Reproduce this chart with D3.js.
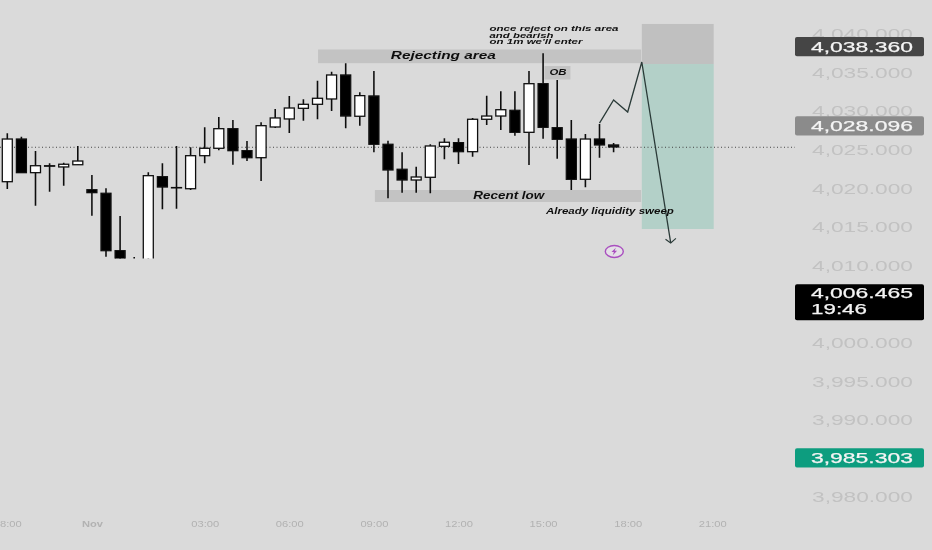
<!DOCTYPE html>
<html>
<head>
<meta charset="utf-8">
<script src="https://cdn.jsdelivr.net/npm/d3@7"></script>
<style>
  html, body { margin: 0; padding: 0; background: #dadada; overflow: hidden; }
  text { font-family: "Liberation Sans", Arial, sans-serif; }
</style>
</head>
<body>
<svg width="932" height="550"></svg>
<script>
// 30 minute candles
var opens = [4020.86,4026.39,4022.03,4022.93,4022.77,4023.06,4019.82,4019.36,4011.92,4006.5,4006.5,4021.51,4020.10,4019.95,4024.23,4025.19,4027.73,4024.88,4023.97,4027.95,4028.99,4030.37,4030.89,4031.58,4034.69,4029.34,4031.97,4025.71,4022.47,4021.08,4021.43,4025.45,4025.92,4024.75,4028.95,4029.37,4030.11,4027.26,4033.56,4027.86,4026.39,4021.17,4026.39,4025.62];
var highs = [4027.13,4026.69,4024.84,4023.25,4023.32,4025.49,4021.73,4020.01,4016.42,4011.10,4022.08,4023.25,4025.49,4025.32,4027.91,4029.25,4028.86,4026.14,4028.56,4030.28,4031.97,4031.54,4033.95,4035.12,4036.20,4032.45,4035.21,4026.17,4024.67,4022.81,4025.71,4026.49,4026.49,4029.12,4032.01,4032.58,4032.58,4035.21,4037.50,4034.04,4028.86,4027.04,4028.34,4025.88];
var lows = [4019.92,4021.99,4017.75,4019.57,4020.34,4023.03,4016.46,4011.14,4005.0,4004.0,4005.5,4017.28,4017.36,4019.79,4023.25,4024.93,4023.06,4023.54,4020.95,4027.82,4027.17,4028.77,4028.95,4030.02,4027.78,4028.12,4024.67,4018.71,4019.44,4019.44,4019.36,4023.76,4023.15,4024.10,4028.21,4027.56,4026.82,4023.03,4026.43,4023.84,4019.79,4020.14,4023.97,4024.67];
var closes = [4026.39,4022.03,4022.93,4022.87,4023.12,4023.54,4019.44,4011.92,4006.83,4008.0,4021.64,4020.17,4020.06,4024.23,4025.19,4027.73,4024.88,4023.97,4028.12,4029.12,4030.41,4030.89,4031.67,4034.69,4029.37,4032.01,4025.71,4022.38,4021.08,4021.47,4025.49,4025.97,4024.75,4028.95,4029.37,4030.19,4027.26,4033.56,4027.91,4026.36,4021.17,4026.39,4025.62,4025.36];

var priceTicks = [4040,4035,4030,4025,4020,4015,4010,4000,3995,3990,3980];
var timeTickIdx = [0,6,14,20,26,32,38,44,50];
var timeTickLabels = ["18:00","Nov","03:00","06:00","09:00","12:00","15:00","18:00","21:00"];

var lastPrice = 4025.32;

// drawn path after the last candles [candle index, price]
var projected = [[42,4028.45],[43,4031.45],[44,4029.89],[45,4036.37],[47.05,4012.92]];

// shaded areas [index from, index to, price top, price bottom]
var rejectZone = [22.04,44.95,4037.99,4036.22];
var lowZone = [26.07,44.95,4019.78,4018.23];
var obZone = [38.1,39.94,4035.85,4034.1];
var stopZone = [45,50.1,4041.3,4036.11];
var targetZone = [45,50.1,4036.11,4014.73];

// notes [text, index of left edge, price of baseline, width px, font px]
var notes = [
  ["Rejecting area",27.2,4036.78,105,11.5],
  ["once reject on this area",34.2,4040.39,129,7.5],
  ["and bearish",34.2,4039.5,64,7.5],
  ["on 1m we'll enter",34.2,4038.66,93,7.5],
  ["OB",38.45,4034.7,17,8.5],
  ["Recent low",33.05,4018.62,71,10],
  ["Already liquidity sweep",38.2,4016.72,128,9.5]
];

// price tags on the right [value, second line, colour]
var tags = [
  [4038.36,"","#444444"],
  [4028.096,"","#8b8b8b"],
  [4006.465,"19:46","#000000"],
  [3985.303,"","#0f9d7f"]
];

var svg = d3.select("svg");

var defs = svg.append("defs");
defs.append("clipPath").attr("id", "candleClip").append("rect")
  .attr("x", 0).attr("y", 0).attr("width", 795).attr("height", 258.5);
defs.append("filter").attr("id", "soft").append("feGaussianBlur").attr("stdDeviation", 0.35);
defs.append("filter").attr("id", "softer").append("feGaussianBlur").attr("stdDeviation", 0.55);

var x = d3.scaleLinear().domain([0,50]).range([7.3,712.3]);
var y = d3.scaleLinear().domain([3980,4040]).range([497,34]);

var root = svg.append("g").attr("filter", "url(#soft)");

root.append("rect").attr("width", 932).attr("height", 550).attr("fill", "#dadada");

// zones
function zone(z, colour) {
  root.append("rect")
    .attr("x", x(z[0]))
    .attr("y", y(z[2]))
    .attr("width", x(z[1]) - x(z[0]))
    .attr("height", y(z[3]) - y(z[2]))
    .attr("fill", colour);
}
zone(rejectZone, "#c3c3c3");
zone(lowZone, "#c3c3c3");
zone(obZone, "#c3c3c3");
zone(stopZone, "#c0c0c0");
zone(targetZone, "#b3d0c8");

// last price dotted line
root.append("line")
  .attr("x1", 0).attr("x2", 795)
  .attr("y1", y(lastPrice)).attr("y2", y(lastPrice))
  .attr("stroke", "#444").attr("stroke-width", 1).attr("stroke-dasharray", "1,2.5");

// candles
var candles = root.append("g").attr("clip-path", "url(#candleClip)")
  .selectAll("g").data(opens).join("g");

candles.append("line")
  .attr("x1", function(d,i){ return x(i); })
  .attr("x2", function(d,i){ return x(i); })
  .attr("y1", function(d,i){ return y(highs[i]); })
  .attr("y2", function(d,i){ return y(lows[i]); })
  .attr("stroke", "#111").attr("stroke-width", 1.6);

candles.append("rect")
  .attr("x", function(d,i){ return x(i) - 5; })
  .attr("width", 10)
  .attr("y", function(d,i){ return y(Math.max(opens[i], closes[i])); })
  .attr("height", function(d,i){ return Math.abs(y(opens[i]) - y(closes[i])); })
  .attr("fill", function(d,i){ return closes[i] >= opens[i] ? "#fff" : "#000"; })
  .attr("stroke", "#111").attr("stroke-width", 1.3);

// drawn path with arrow head
var line = d3.line()
  .x(function(d){ return x(d[0]); })
  .y(function(d){ return y(d[1]); });

root.append("path").datum(projected)
  .attr("d", line)
  .attr("fill", "none")
  .attr("stroke", "#2a3a38").attr("stroke-width", 1.3);

var tip = projected[projected.length - 1];
root.append("path").datum([[tip[0] - 0.37, tip[1] + 0.48], tip, [tip[0] + 0.37, tip[1] + 0.6]])
  .attr("d", line)
  .attr("fill", "none")
  .attr("stroke", "#2a3a38").attr("stroke-width", 1.1);

// notes
root.append("g").selectAll("text").data(notes).join("text")
  .attr("x", function(d){ return x(d[1]); })
  .attr("y", function(d){ return y(d[2]); })
  .attr("textLength", function(d){ return d[3]; })
  .attr("lengthAdjust", "spacingAndGlyphs")
  .attr("font-size", function(d){ return d[4]; })
  .attr("font-weight", "bold")
  .attr("font-style", "italic")
  .attr("fill", "#111")
  .text(function(d){ return d[0]; });

// lightning badge
var badge = root.append("g").attr("transform", "translate(" + x(43.05) + "," + y(4011.82) + ")");
badge.append("ellipse").attr("rx", 9).attr("ry", 6)
  .attr("fill", "#e4e0e6").attr("stroke", "#a94fbf").attr("stroke-width", 1.4);
badge.append("path").attr("d", "M1.5,-3.8 L-2.8,0.6 L-0.4,0.6 L-1.5,3.8 L2.8,-0.8 L0.4,-0.8 Z")
  .attr("fill", "#a94fbf");

// axes
var yAxis = d3.axisRight(y)
  .tickValues(priceTicks)
  .tickSize(0)
  .tickFormat(d3.format(",.3f"));

var yAxisG = svg.append("g").attr("filter", "url(#softer)")
  .attr("transform", "translate(812,0)").call(yAxis);
yAxisG.select(".domain").remove();
yAxisG.selectAll("text")
  .attr("x", 0)
  .attr("textLength", 101)
  .attr("lengthAdjust", "spacingAndGlyphs")
  .attr("font-size", 15)
  .attr("font-family", "Liberation Sans")
  .attr("fill", "#c2c2c2");

var xAxis = d3.axisBottom(x)
  .tickValues(timeTickIdx)
  .tickSize(0)
  .tickFormat(function(d,i){ return timeTickLabels[i]; });

var xAxisG = svg.append("g").attr("filter", "url(#softer)")
  .attr("transform", "translate(0,518)").call(xAxis);
xAxisG.select(".domain").remove();
xAxisG.selectAll("text")
  .attr("textLength", 28)
  .attr("lengthAdjust", "spacingAndGlyphs")
  .attr("font-size", 8.5)
  .attr("font-family", "Liberation Sans")
  .attr("font-weight", function(d,i){ return timeTickLabels[i] == "Nov" ? "bold" : "normal"; })
  .attr("fill", "#b2b2b2");
xAxisG.selectAll("text").filter(function(d,i){ return timeTickLabels[i] == "Nov"; })
  .attr("textLength", 21);

// price tags, the lowest one sits a little under its price in the picture
var tagG = svg.append("g").attr("filter", "url(#soft)").selectAll("g").data(tags).join("g")
  .attr("transform", function(d){ return "translate(795," + (y(d[0]) + (d[0] < 3990 ? 1.8 : 0)) + ")"; });

tagG.append("rect")
  .attr("x", 0)
  .attr("y", function(d){ return d[1] ? -8.5 : -9.7; })
  .attr("width", 129)
  .attr("height", function(d){ return d[1] ? 36 : 19.4; })
  .attr("rx", 2)
  .attr("fill", function(d){ return d[2]; });

tagG.append("text")
  .attr("x", 16)
  .attr("y", 5.3)
  .attr("textLength", 102)
  .attr("lengthAdjust", "spacingAndGlyphs")
  .attr("font-size", 15)
  .attr("fill", "#f4f4f4")
  .attr("stroke", "#f4f4f4").attr("stroke-width", 0.25)
  .text(function(d){ return d3.format(",.3f")(d[0]); });

tagG.filter(function(d){ return d[1]; }).append("text")
  .attr("x", 16)
  .attr("y", 21.5)
  .attr("textLength", 56)
  .attr("lengthAdjust", "spacingAndGlyphs")
  .attr("font-size", 15)
  .attr("fill", "#f4f4f4")
  .attr("stroke", "#f4f4f4").attr("stroke-width", 0.25)
  .text(function(d){ return d[1]; });
</script>
</body>
</html>
